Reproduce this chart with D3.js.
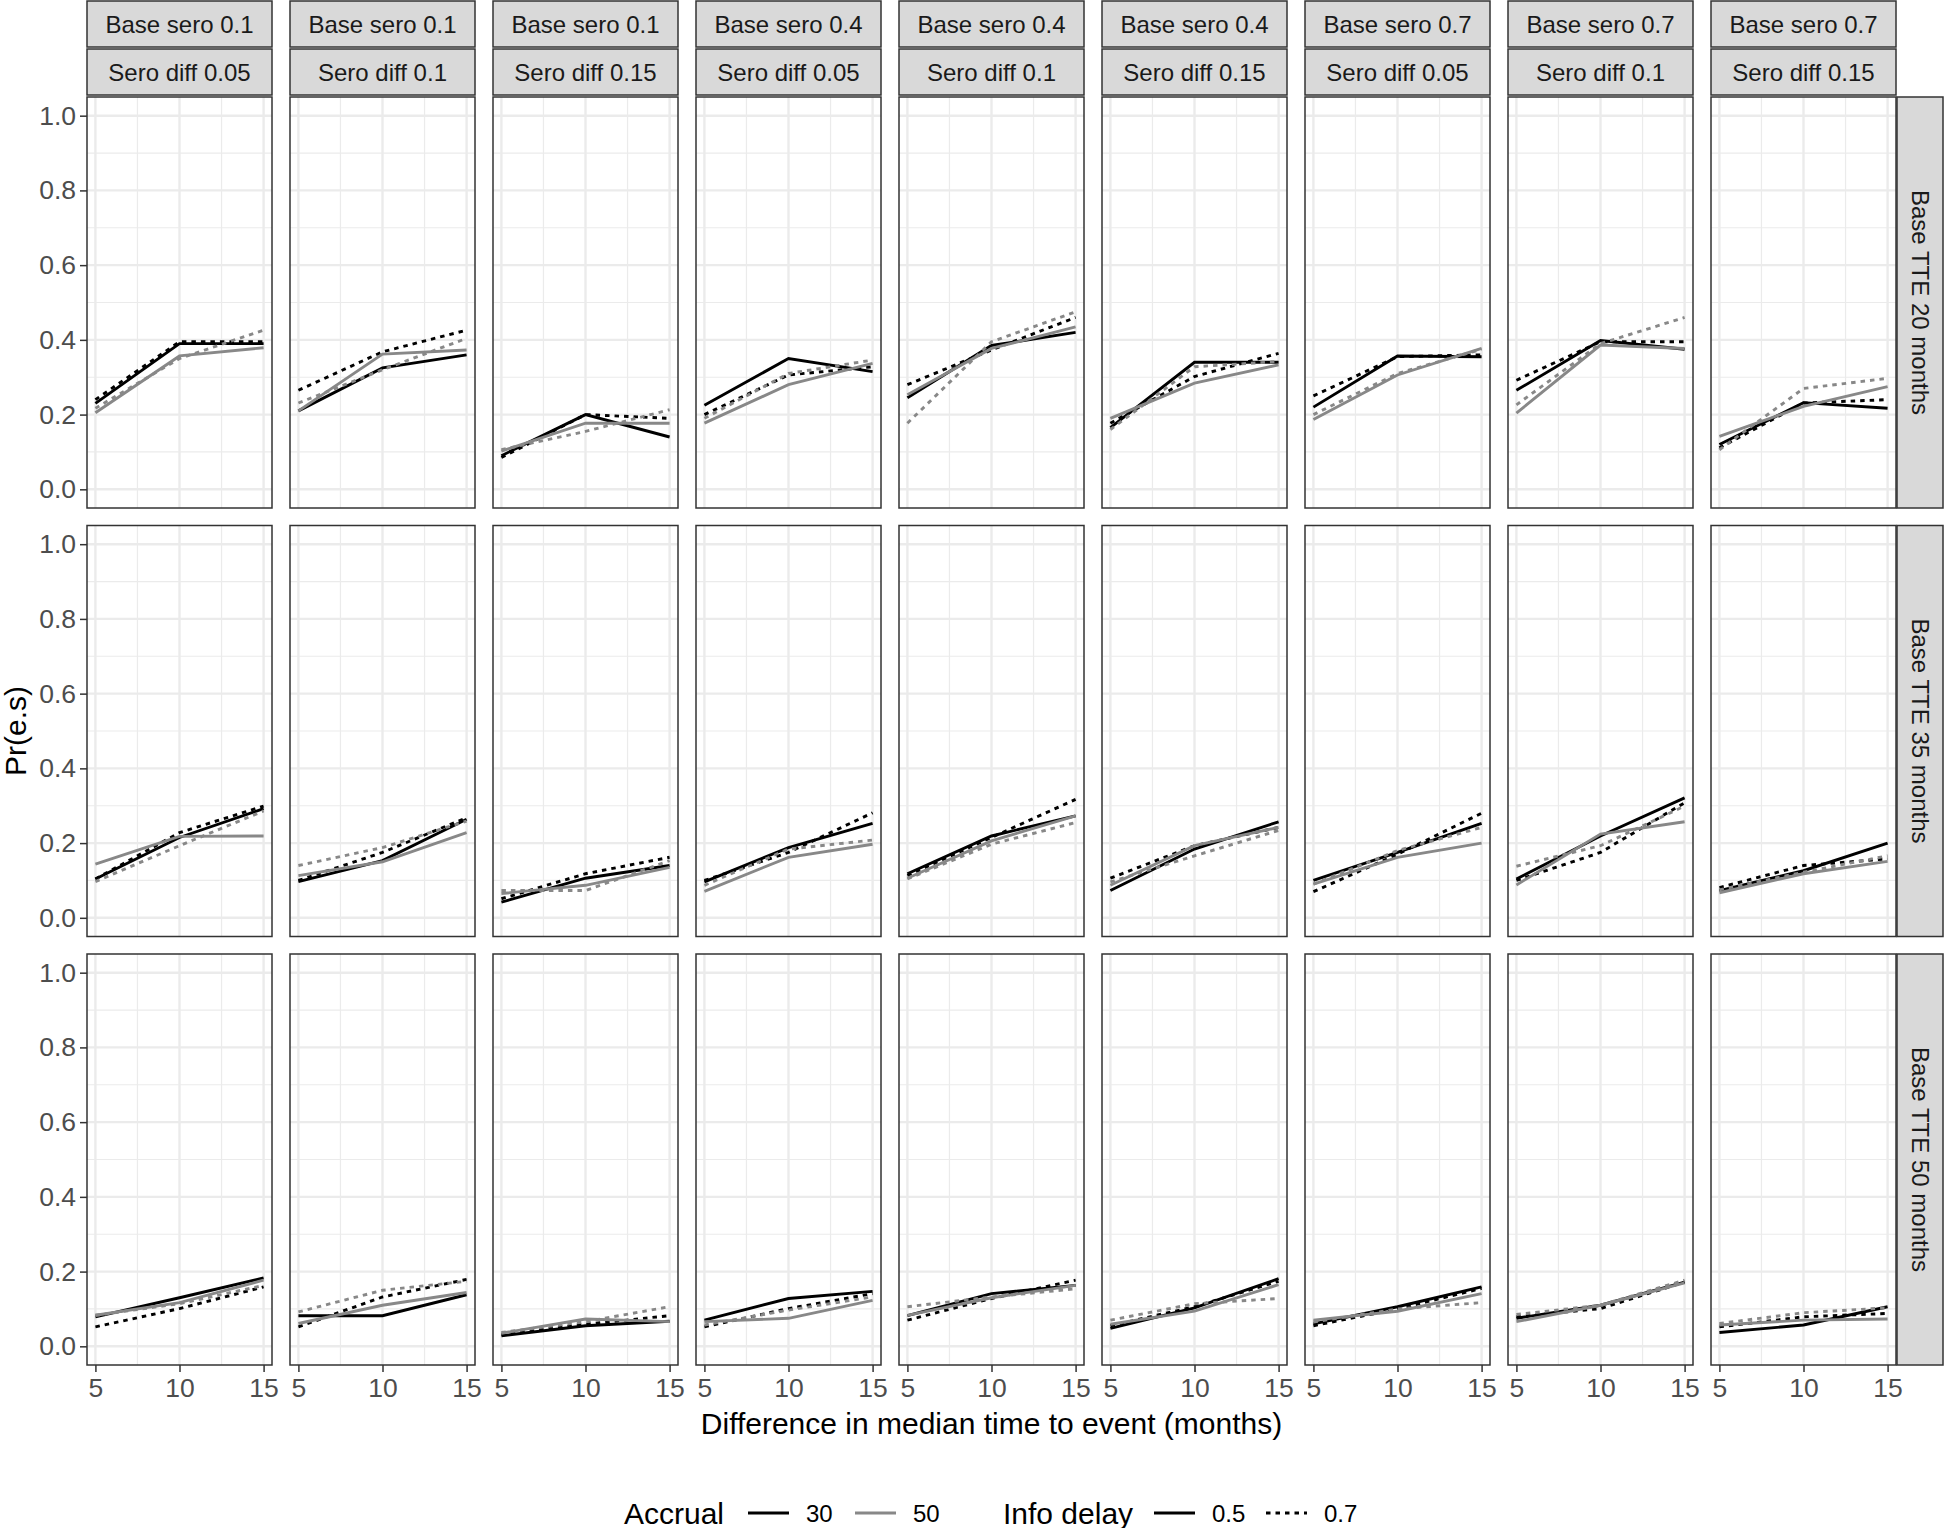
<!DOCTYPE html>
<html>
<head>
<meta charset="utf-8">
<script src="https://cdn.jsdelivr.net/npm/d3@7/dist/d3.min.js"></script>
<style>
  body { margin: 0; background: #fff; }
  text { font-family: "Liberation Sans", Arial, Helvetica, sans-serif; }
</style>
</head>
<body>
<div id="chart"></div>
<script>
// facet labels
var baseSero = ["0.1", "0.4", "0.7"];
var seroDiff = ["0.05", "0.1", "0.15"];
var baseTTE = ["20", "35", "50"];
var months = [5, 10, 15];
var yTicks = [0, 0.2, 0.4, 0.6, 0.8, 1.0];
var accrual = ["30", "50"];
var infoDelay = ["0.5", "0.7"];

// Base TTE 20 months - one [5,10,15] triple per column
var tte20_a30_d05 = [[0.23,0.39,0.39],[0.21,0.325,0.36],[0.09,0.20,0.14],[0.225,0.35,0.315],[0.245,0.385,0.42],[0.165,0.34,0.34],[0.22,0.357,0.355],[0.265,0.398,0.375],[0.12,0.232,0.217]];
var tte20_a30_d07 = [[0.24,0.395,0.395],[0.265,0.368,0.426],[0.085,0.20,0.19],[0.20,0.306,0.328],[0.28,0.373,0.46],[0.177,0.302,0.364],[0.25,0.355,0.36],[0.292,0.395,0.395],[0.111,0.231,0.24]];
var tte20_a50_d05 = [[0.205,0.357,0.379],[0.21,0.362,0.373],[0.102,0.177,0.177],[0.177,0.28,0.337],[0.253,0.377,0.435],[0.19,0.284,0.333],[0.187,0.306,0.377],[0.204,0.386,0.377],[0.142,0.222,0.275]];
var tte20_a50_d07 = [[0.217,0.35,0.426],[0.231,0.32,0.404],[0.106,0.155,0.213],[0.19,0.31,0.346],[0.177,0.395,0.475],[0.16,0.328,0.342],[0.2,0.31,0.375],[0.226,0.39,0.46],[0.106,0.27,0.297]];

// Base TTE 35 months
var tte35_a30_d05 = [[0.104,0.215,0.292],[0.097,0.153,0.264],[0.042,0.106,0.14],[0.096,0.188,0.253],[0.118,0.219,0.273],[0.073,0.184,0.257],[0.1,0.175,0.253],[0.104,0.219,0.321],[0.073,0.126,0.2]];
var tte35_a30_d07 = [[0.104,0.228,0.299],[0.1,0.175,0.268],[0.051,0.118,0.162],[0.1,0.175,0.281],[0.113,0.215,0.317],[0.106,0.193,0.242],[0.07,0.17,0.28],[0.1,0.175,0.308],[0.081,0.14,0.158]];
var tte35_a50_d05 = [[0.144,0.218,0.219],[0.113,0.15,0.228],[0.065,0.087,0.135],[0.071,0.162,0.197],[0.106,0.206,0.273],[0.087,0.193,0.242],[0.09,0.162,0.2],[0.088,0.224,0.257],[0.067,0.118,0.151]];
var tte35_a50_d07 = [[0.097,0.193,0.286],[0.14,0.188,0.259],[0.073,0.073,0.153],[0.087,0.184,0.208],[0.104,0.197,0.255],[0.096,0.166,0.234],[0.09,0.18,0.242],[0.138,0.193,0.299],[0.075,0.122,0.166]];

// Base TTE 50 months
var tte50_a30_d05 = [[0.079,0.13,0.183],[0.082,0.082,0.138],[0.028,0.055,0.067],[0.07,0.128,0.147],[0.082,0.141,0.163],[0.048,0.103,0.181],[0.06,0.106,0.159],[0.075,0.11,0.172],[0.037,0.057,0.106]];
var tte50_a30_d07 = [[0.052,0.101,0.159],[0.052,0.132,0.179],[0.032,0.059,0.082],[0.052,0.101,0.141],[0.07,0.128,0.177],[0.055,0.106,0.174],[0.055,0.1,0.155],[0.079,0.101,0.172],[0.052,0.079,0.088]];
var tte50_a50_d05 = [[0.083,0.117,0.177],[0.061,0.11,0.144],[0.035,0.073,0.066],[0.066,0.075,0.123],[0.083,0.13,0.163],[0.059,0.094,0.165],[0.07,0.094,0.141],[0.066,0.11,0.17],[0.057,0.07,0.073]];
var tte50_a50_d07 = [[0.083,0.114,0.163],[0.092,0.15,0.174],[0.037,0.066,0.106],[0.057,0.097,0.132],[0.106,0.132,0.154],[0.07,0.114,0.128],[0.065,0.1,0.117],[0.085,0.11,0.177],[0.061,0.09,0.103]];

var rows = [
  [tte20_a30_d05, tte20_a30_d07, tte20_a50_d05, tte20_a50_d07],
  [tte35_a30_d05, tte35_a30_d07, tte35_a50_d05, tte35_a50_d07],
  [tte50_a30_d05, tte50_a30_d07, tte50_a50_d05, tte50_a50_d07]
];

var W = 1946, H = 1528;
var left0 = 87, panelW = 185, stepX = 203;
var top0 = 97, panelH = 411, stepY = 428.5;
var stripH = 46;
var FONT = "'Liberation Sans', Arial, Helvetica, sans-serif";
var accColor = {"30": "#000000", "50": "#888888"};
var delayDash = {"0.5": null, "0.7": "4.5,5"};

var svg = d3.select("#chart").append("svg")
  .attr("width", W).attr("height", H)
  .style("display", "block");

var x = d3.scaleLinear().domain([4.5, 15.5]).range([0, panelW]);
var y = d3.scaleLinear().domain([-0.05, 1.05]).range([panelH, 0]);

// columns: base sero outer, sero diff inner
var cols = [];
baseSero.forEach(function(bs) {
  seroDiff.forEach(function(sd) { cols.push({bs: bs, sd: sd}); });
});

var line = d3.line().x(function(d) { return x(d[0]); }).y(function(d) { return y(d[1]); });

// top strips
cols.forEach(function(c, ci) {
  var px = left0 + ci * stepX;
  [["Base sero " + c.bs, 1], ["Sero diff " + c.sd, 1 + stripH + 2]].forEach(function(s) {
    svg.append("rect")
      .attr("x", px).attr("y", s[1]).attr("width", panelW).attr("height", stripH)
      .attr("fill", "#D9D9D9").attr("stroke", "#333333").attr("stroke-width", 1.5);
    svg.append("text")
      .attr("x", px + panelW / 2).attr("y", s[1] + stripH / 2)
      .attr("text-anchor", "middle").attr("dominant-baseline", "central")
      .attr("font-size", 24).attr("fill", "#1A1A1A")
      .text(s[0]);
  });
});

rows.forEach(function(series, ri) {
  var py = top0 + ri * stepY;

  cols.forEach(function(c, ci) {
    var px = left0 + ci * stepX;
    var g = svg.append("g").attr("transform", "translate(" + px + "," + py + ")");

    g.append("rect").attr("width", panelW).attr("height", panelH).attr("fill", "#fff");

    // minor grid
    g.selectAll(".gxm").data([7.5, 12.5]).enter().append("line")
      .attr("x1", function(d) { return x(d); }).attr("x2", function(d) { return x(d); })
      .attr("y1", 0).attr("y2", panelH)
      .attr("stroke", "#EBEBEB").attr("stroke-width", 1.2);
    g.selectAll(".gym").data([0.1, 0.3, 0.5, 0.7, 0.9]).enter().append("line")
      .attr("y1", function(d) { return y(d); }).attr("y2", function(d) { return y(d); })
      .attr("x1", 0).attr("x2", panelW)
      .attr("stroke", "#EBEBEB").attr("stroke-width", 1.2);
    // major grid
    g.selectAll(".gx").data(months).enter().append("line")
      .attr("x1", function(d) { return x(d); }).attr("x2", function(d) { return x(d); })
      .attr("y1", 0).attr("y2", panelH)
      .attr("stroke", "#EBEBEB").attr("stroke-width", 2.4);
    g.selectAll(".gy").data(yTicks).enter().append("line")
      .attr("y1", function(d) { return y(d); }).attr("y2", function(d) { return y(d); })
      .attr("x1", 0).attr("x2", panelW)
      .attr("stroke", "#EBEBEB").attr("stroke-width", 2.4);

    // series lines
    var k = 0;
    accrual.forEach(function(a) {
      infoDelay.forEach(function(dl) {
        var vals = series[k][ci];
        var pts = months.map(function(m, i) { return [m, vals[i]]; });
        g.append("path")
          .attr("d", line(pts))
          .attr("fill", "none")
          .attr("stroke", accColor[a])
          .attr("stroke-width", 2.9)
          .attr("stroke-dasharray", delayDash[dl]);
        k++;
      });
    });

    g.append("rect").attr("width", panelW).attr("height", panelH)
      .attr("fill", "none").attr("stroke", "#333333").attr("stroke-width", 1.5);

    if (ci === 0) {
      var ya = g.append("g")
        .call(d3.axisLeft(y).tickValues(yTicks).tickFormat(d3.format(".1f")).tickSize(7).tickPadding(4));
      ya.select(".domain").remove();
      ya.selectAll("line").attr("stroke", "#333333").attr("stroke-width", 1.5);
      ya.selectAll("text").attr("font-size", 26.5).attr("fill", "#4D4D4D").attr("font-family", FONT);
    }
    if (ri === rows.length - 1) {
      var xa = g.append("g").attr("transform", "translate(0," + panelH + ")")
        .call(d3.axisBottom(x).tickValues(months).tickFormat(d3.format("d")).tickSize(7).tickPadding(6));
      xa.select(".domain").remove();
      xa.selectAll("line").attr("stroke", "#333333").attr("stroke-width", 1.5);
      xa.selectAll("text").attr("font-size", 26.5).attr("fill", "#4D4D4D").attr("font-family", FONT);
    }
  });

  // right strip
  var sx = left0 + (cols.length - 1) * stepX + panelW + 1;
  svg.append("rect")
    .attr("x", sx).attr("y", py).attr("width", 46).attr("height", panelH)
    .attr("fill", "#D9D9D9").attr("stroke", "#333333").attr("stroke-width", 1.5);
  svg.append("text")
    .attr("transform", "translate(" + (sx + 23) + "," + (py + panelH / 2) + ") rotate(90)")
    .attr("text-anchor", "middle").attr("dominant-baseline", "central")
    .attr("font-size", 24).attr("fill", "#1A1A1A")
    .text("Base TTE " + baseTTE[ri] + " months");
});

// axis titles
var plotRight = left0 + (cols.length - 1) * stepX + panelW;
svg.append("text")
  .attr("x", (left0 + plotRight) / 2).attr("y", 1423)
  .attr("text-anchor", "middle").attr("dominant-baseline", "central")
  .attr("font-size", 30).attr("fill", "#000")
  .text("Difference in median time to event (months)");
svg.append("text")
  .attr("transform", "translate(15," + (top0 + (2 * stepY + panelH) / 2) + ") rotate(-90)")
  .attr("text-anchor", "middle").attr("dominant-baseline", "central")
  .attr("font-size", 30).attr("fill", "#000")
  .text("Pr(e.s)");

// legend
var ly = 1513;
var leg = svg.append("g");
function legTitle(tx, t) {
  leg.append("text").attr("x", tx).attr("y", ly).attr("dominant-baseline", "central")
    .attr("font-size", 30).attr("fill", "#000").text(t);
}
function legItem(kx, color, dash, label) {
  leg.append("line").attr("x1", kx).attr("x2", kx + 41).attr("y1", ly).attr("y2", ly)
    .attr("stroke", color).attr("stroke-width", 2.9).attr("stroke-dasharray", dash);
  leg.append("text").attr("x", kx + 58).attr("y", ly).attr("dominant-baseline", "central")
    .attr("font-size", 24).attr("fill", "#000").text(label);
}
legTitle(624, "Accrual");
legItem(748, accColor[accrual[0]], null, accrual[0]);
legItem(855, accColor[accrual[1]], null, accrual[1]);
legTitle(1003, "Info delay");
legItem(1154, "#000", delayDash[infoDelay[0]], infoDelay[0]);
legItem(1266, "#000", delayDash[infoDelay[1]], infoDelay[1]);
</script>
</body>
</html>
